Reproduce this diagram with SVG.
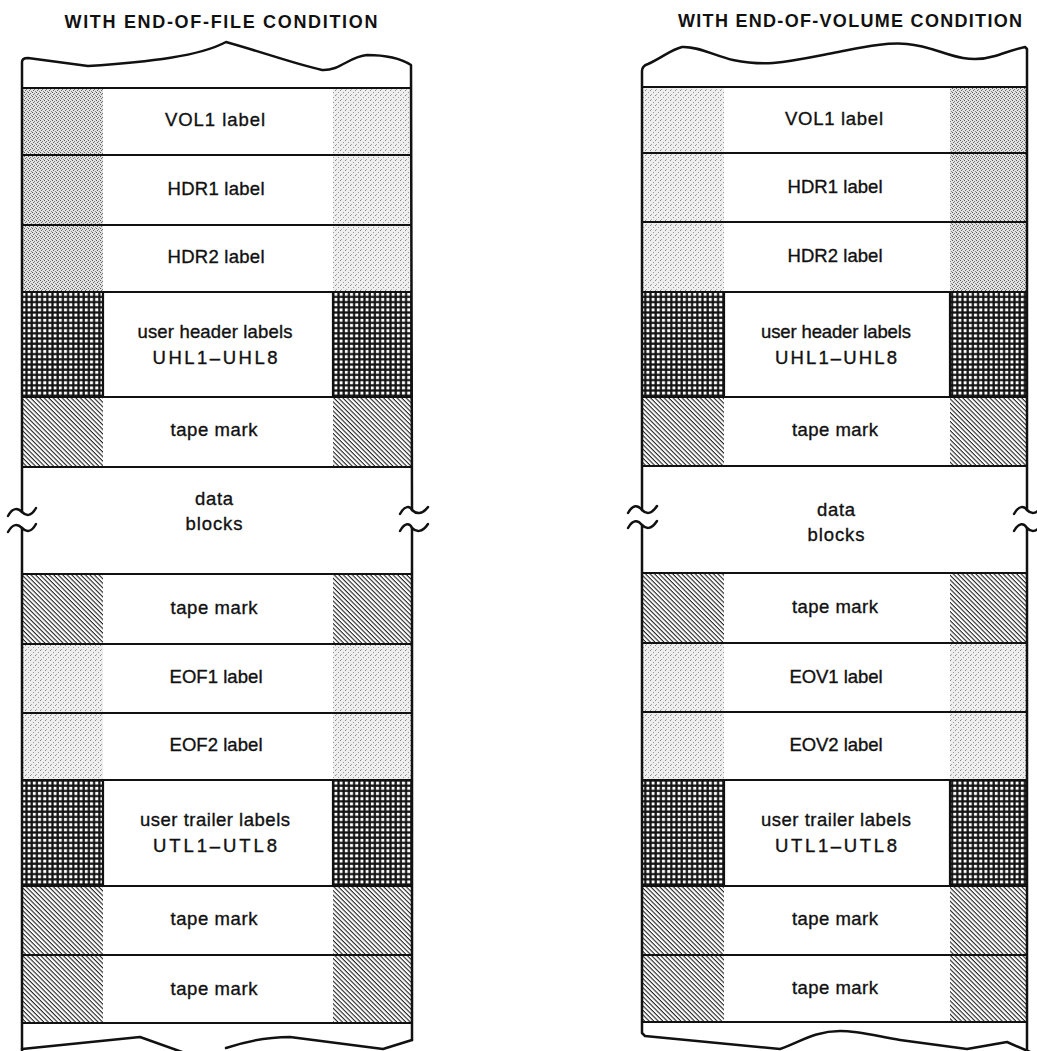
<svg xmlns="http://www.w3.org/2000/svg" width="1037" height="1051" viewBox="0 0 1037 1051">
<style>
.t{font-family:"Liberation Sans",Arial,sans-serif;font-size:18.5px;fill:#111;stroke:#111;stroke-width:0.35;text-anchor:middle}
.h{font-family:"Liberation Sans",Arial,sans-serif;font-size:18px;font-weight:bold;fill:#111;text-anchor:middle}
.b{fill:none;stroke:#111;stroke-width:2.5;stroke-linejoin:round;stroke-linecap:round}
.d{stroke:#111;stroke-width:2.2}
</style>
<defs>
<pattern id="stD" width="4" height="4" patternUnits="userSpaceOnUse">
<rect width="4" height="4" fill="#e2e2e2"/>
<rect x="0" y="0" width="1" height="1" fill="#555"/>
<rect x="2" y="1" width="1" height="1" fill="#777"/>
<rect x="1" y="2" width="1" height="1" fill="#666"/>
<rect x="3" y="3" width="1" height="1" fill="#888"/>
</pattern>
<pattern id="stL" width="5" height="5" patternUnits="userSpaceOnUse">
<rect width="5" height="5" fill="#eeeeee"/>
<rect x="0" y="0" width="1" height="1" fill="#888"/>
<rect x="3" y="2" width="1" height="1" fill="#999"/>
<rect x="1" y="4" width="1" height="1" fill="#aaa"/>
</pattern>
<pattern id="grid" width="5.2" height="5.2" patternUnits="userSpaceOnUse">
<rect width="5.2" height="5.2" fill="#111"/>
<rect x="1.6" y="1.6" width="3" height="3" fill="#fff"/>
</pattern>
<pattern id="hatch" width="3.2" height="3.2" patternUnits="userSpaceOnUse" patternTransform="rotate(45)">
<rect width="3.2" height="3.2" fill="#fff"/>
<rect x="0" y="0" width="3.2" height="1.1" fill="#222"/>
</pattern>
</defs>
<rect width="1037" height="1051" fill="#fff"/>

<text class="h" x="221" y="28" textLength="313" lengthAdjust="spacing">WITH END-OF-FILE CONDITION</text>
<text class="h" x="850" y="27" textLength="344" lengthAdjust="spacing">WITH END-OF-VOLUME CONDITION</text>

<!-- LEFT COLUMN -->
<g id="left-vol1">
<rect x="22" y="88" width="81" height="67" fill="url(#stD)"/>
<rect x="333" y="88" width="79" height="67" fill="url(#stL)"/>
<text class="t" x="215" y="126" textLength="100" lengthAdjust="spacing">VOL1 label</text>
</g>
<g id="left-hdr1">
<rect x="22" y="155" width="81" height="70" fill="url(#stD)"/>
<rect x="333" y="155" width="79" height="70" fill="url(#stL)"/>
<text class="t" x="216" y="195" textLength="97" lengthAdjust="spacing">HDR1 label</text>
</g>
<g id="left-hdr2">
<rect x="22" y="225" width="81" height="67" fill="url(#stD)"/>
<rect x="333" y="225" width="79" height="67" fill="url(#stL)"/>
<text class="t" x="216" y="263" textLength="97" lengthAdjust="spacing">HDR2 label</text>
</g>
<g id="left-uhl">
<rect x="22" y="292" width="81" height="105" fill="url(#grid)"/>
<rect x="333" y="292" width="79" height="105" fill="url(#grid)"/>
<text class="t" x="215" y="338" textLength="155" lengthAdjust="spacing">user header labels</text>
<text class="t" x="215" y="364" textLength="125" lengthAdjust="spacing">UHL1–UHL8</text>
</g>
<g id="left-tm1">
<rect x="22" y="397" width="81" height="70" fill="url(#hatch)"/>
<rect x="333" y="397" width="79" height="70" fill="url(#hatch)"/>
<text class="t" x="214" y="436" textLength="87" lengthAdjust="spacing">tape mark</text>
</g>
<g id="left-data">
<text class="t" x="214" y="505" textLength="38" lengthAdjust="spacing">data</text>
<text class="t" x="214" y="530" textLength="57" lengthAdjust="spacing">blocks</text>
</g>
<g id="left-tm2">
<rect x="22" y="574" width="81" height="70" fill="url(#hatch)"/>
<rect x="333" y="574" width="79" height="70" fill="url(#hatch)"/>
<text class="t" x="214" y="614" textLength="87" lengthAdjust="spacing">tape mark</text>
</g>
<g id="left-eof1">
<rect x="22" y="644" width="81" height="69" fill="url(#stL)"/>
<rect x="333" y="644" width="79" height="69" fill="url(#stL)"/>
<text class="t" x="216" y="683" textLength="93" lengthAdjust="spacing">EOF1 label</text>
</g>
<g id="left-eof2">
<rect x="22" y="713" width="81" height="67" fill="url(#stL)"/>
<rect x="333" y="713" width="79" height="67" fill="url(#stL)"/>
<text class="t" x="216" y="751" textLength="93" lengthAdjust="spacing">EOF2 label</text>
</g>
<g id="left-utl">
<rect x="22" y="780" width="81" height="106" fill="url(#grid)"/>
<rect x="333" y="780" width="79" height="106" fill="url(#grid)"/>
<text class="t" x="215" y="826" textLength="150" lengthAdjust="spacing">user trailer labels</text>
<text class="t" x="215" y="852" textLength="124" lengthAdjust="spacing">UTL1–UTL8</text>
</g>
<g id="left-tm3">
<rect x="22" y="886" width="81" height="69" fill="url(#hatch)"/>
<rect x="333" y="886" width="79" height="69" fill="url(#hatch)"/>
<text class="t" x="214" y="925" textLength="87" lengthAdjust="spacing">tape mark</text>
</g>
<g id="left-tm4">
<rect x="22" y="955" width="81" height="68" fill="url(#hatch)"/>
<rect x="333" y="955" width="79" height="68" fill="url(#hatch)"/>
<text class="t" x="214" y="995" textLength="87" lengthAdjust="spacing">tape mark</text>
</g>

<!-- RIGHT COLUMN -->
<g id="right-vol1">
<rect x="642" y="87" width="82" height="66" fill="url(#stL)"/>
<rect x="950" y="87" width="77" height="66" fill="url(#stD)"/>
<text class="t" x="834" y="125" textLength="98" lengthAdjust="spacing">VOL1 label</text>
</g>
<g id="right-hdr1">
<rect x="642" y="153" width="82" height="69" fill="url(#stL)"/>
<rect x="950" y="153" width="77" height="69" fill="url(#stD)"/>
<text class="t" x="835" y="193" textLength="95" lengthAdjust="spacing">HDR1 label</text>
</g>
<g id="right-hdr2">
<rect x="642" y="222" width="82" height="70" fill="url(#stL)"/>
<rect x="950" y="222" width="77" height="70" fill="url(#stD)"/>
<text class="t" x="835" y="262" textLength="95" lengthAdjust="spacing">HDR2 label</text>
</g>
<g id="right-uhl">
<rect x="642" y="292" width="82" height="105" fill="url(#grid)"/>
<rect x="950" y="292" width="77" height="105" fill="url(#grid)"/>
<text class="t" x="836" y="338" textLength="150" lengthAdjust="spacing">user header labels</text>
<text class="t" x="836" y="364" textLength="122" lengthAdjust="spacing">UHL1–UHL8</text>
</g>
<g id="right-tm1">
<rect x="642" y="397" width="82" height="69" fill="url(#hatch)"/>
<rect x="950" y="397" width="77" height="69" fill="url(#hatch)"/>
<text class="t" x="835" y="436" textLength="86" lengthAdjust="spacing">tape mark</text>
</g>
<g id="right-data">
<text class="t" x="836" y="516" textLength="38" lengthAdjust="spacing">data</text>
<text class="t" x="836" y="541" textLength="57" lengthAdjust="spacing">blocks</text>
</g>
<g id="right-tm2">
<rect x="642" y="573" width="82" height="70" fill="url(#hatch)"/>
<rect x="950" y="573" width="77" height="70" fill="url(#hatch)"/>
<text class="t" x="835" y="613" textLength="86" lengthAdjust="spacing">tape mark</text>
</g>
<g id="right-eov1">
<rect x="642" y="643" width="82" height="69" fill="url(#stL)"/>
<rect x="950" y="643" width="77" height="69" fill="url(#stL)"/>
<text class="t" x="836" y="683" textLength="93" lengthAdjust="spacing">EOV1 label</text>
</g>
<g id="right-eov2">
<rect x="642" y="712" width="82" height="68" fill="url(#stL)"/>
<rect x="950" y="712" width="77" height="68" fill="url(#stL)"/>
<text class="t" x="836" y="751" textLength="93" lengthAdjust="spacing">EOV2 label</text>
</g>
<g id="right-utl">
<rect x="642" y="780" width="82" height="106" fill="url(#grid)"/>
<rect x="950" y="780" width="77" height="106" fill="url(#grid)"/>
<text class="t" x="836" y="826" textLength="150" lengthAdjust="spacing">user trailer labels</text>
<text class="t" x="836" y="852" textLength="122" lengthAdjust="spacing">UTL1–UTL8</text>
</g>
<g id="right-tm3">
<rect x="642" y="886" width="82" height="69" fill="url(#hatch)"/>
<rect x="950" y="886" width="77" height="69" fill="url(#hatch)"/>
<text class="t" x="835" y="925" textLength="86" lengthAdjust="spacing">tape mark</text>
</g>
<g id="right-tm4">
<rect x="642" y="955" width="82" height="67" fill="url(#hatch)"/>
<rect x="950" y="955" width="77" height="67" fill="url(#hatch)"/>
<text class="t" x="835" y="994" textLength="86" lengthAdjust="spacing">tape mark</text>
</g>

<g id="connectors">
<g class="d">
<line x1="22" y1="88" x2="412" y2="88"/>
<line x1="22" y1="155" x2="412" y2="155"/>
<line x1="22" y1="225" x2="412" y2="225"/>
<line x1="22" y1="292" x2="412" y2="292"/>
<line x1="22" y1="397" x2="412" y2="397"/>
<line x1="22" y1="467" x2="412" y2="467"/>
<line x1="22" y1="574" x2="412" y2="574"/>
<line x1="22" y1="644" x2="412" y2="644"/>
<line x1="22" y1="713" x2="412" y2="713"/>
<line x1="22" y1="780" x2="412" y2="780"/>
<line x1="22" y1="886" x2="412" y2="886"/>
<line x1="22" y1="955" x2="412" y2="955"/>
<line x1="22" y1="1023" x2="412" y2="1023"/>
<line x1="103" y1="292" x2="103" y2="397"/>
<line x1="333" y1="292" x2="333" y2="397"/>
<line x1="103" y1="780" x2="103" y2="886"/>
<line x1="333" y1="780" x2="333" y2="886"/>
<line x1="642" y1="87" x2="1027" y2="87"/>
<line x1="642" y1="153" x2="1027" y2="153"/>
<line x1="642" y1="222" x2="1027" y2="222"/>
<line x1="642" y1="292" x2="1027" y2="292"/>
<line x1="642" y1="397" x2="1027" y2="397"/>
<line x1="642" y1="466" x2="1027" y2="466"/>
<line x1="642" y1="573" x2="1027" y2="573"/>
<line x1="642" y1="643" x2="1027" y2="643"/>
<line x1="642" y1="712" x2="1027" y2="712"/>
<line x1="642" y1="780" x2="1027" y2="780"/>
<line x1="642" y1="886" x2="1027" y2="886"/>
<line x1="642" y1="955" x2="1027" y2="955"/>
<line x1="642" y1="1022" x2="1027" y2="1022"/>
<line x1="724" y1="292" x2="724" y2="397"/>
<line x1="950" y1="292" x2="950" y2="397"/>
<line x1="724" y1="780" x2="724" y2="886"/>
<line x1="950" y1="780" x2="950" y2="886"/>
</g>
<path class="b" d="M22,512 L22,62 Q22,58 28,58 L88,66 C150,62 200,56 226,42 C262,52 295,64 322,70 C340,71 350,56 367,55 C385,55 400,58 411,65 L412,510"/>
<path class="b" d="M22,528 L22,1051"/>
<path class="b" d="M412,528 L412,1040"/>
<path class="b" d="M22,1049 L140,1037 L182,1052 M226,1048 C250,1040 270,1037 290,1037 L383,1049 L412,1040"/>
<path class="b" d="M8,516 C13,507 18,508 22,512 C26,516 31,517 36,508"/>
<path class="b" d="M8,532 C13,523 18,524 22,528 C26,532 31,533 36,524"/>
<path class="b" d="M400,514 C405,505 410,506 412,510 C416,514 422,515 428,507"/>
<path class="b" d="M400,531 C405,522 410,523 412,528 C416,532 422,533 428,524"/>
<path class="b" d="M642,510 L642,71 Q642,66 648,64 C662,58 670,50 682,47 C698,46 715,56 733,60 C748,63 760,64 773,63 C795,61 812,57 833,53 C860,48 885,42 907,44 C930,46 945,55 963,58 C975,60 985,59 995,56 C1005,53 1015,49 1025,47 L1027,49 L1027,510"/>
<path class="b" d="M642,525 L642,1033 L645,1036 L780,1049 C800,1042 815,1031 840,1031 C860,1031 880,1037 900,1040 L967,1049 L1007,1042 L1030,1052"/>
<path class="b" d="M1027,528 L1027,1051"/>
<path class="b" d="M628,513 C633,504 638,505 642,510 C646,514 651,515 657,506"/>
<path class="b" d="M628,528 C633,519 638,520 642,525 C646,529 651,530 657,521"/>
<path class="b" d="M1014,514 C1019,505 1024,506 1027,510 C1031,514 1036,515 1042,506"/>
<path class="b" d="M1014,531 C1019,522 1024,523 1027,528 C1031,532 1036,533 1042,524"/>
</g>
</svg>
